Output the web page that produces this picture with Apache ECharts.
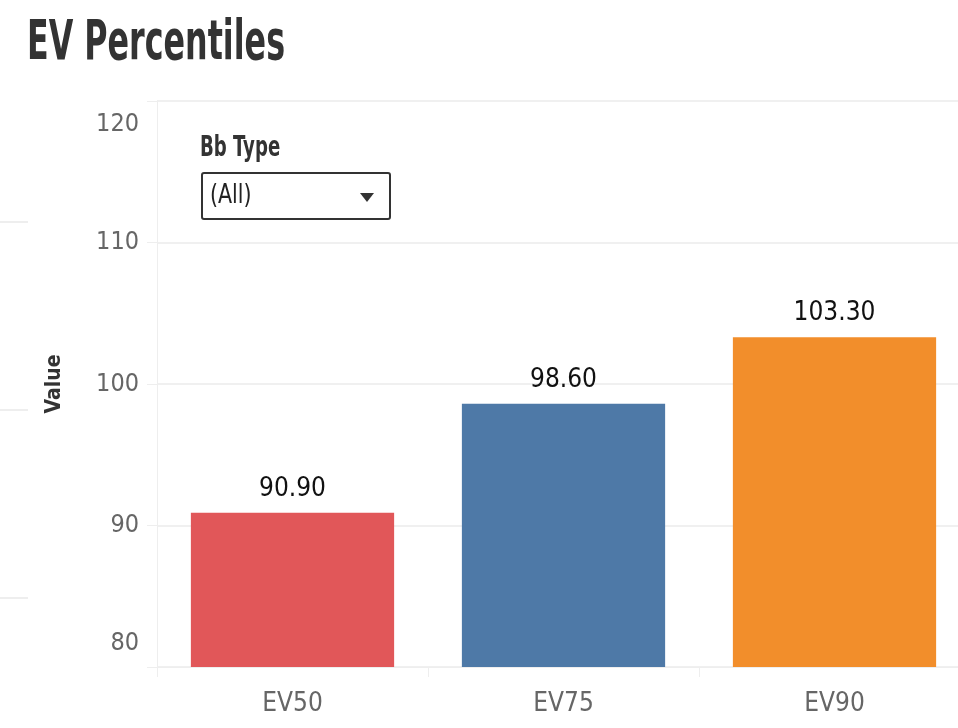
<!DOCTYPE html>
<html><head><meta charset="utf-8">
<script src="https://cdn.jsdelivr.net/npm/echarts@6/dist/echarts.min.js"></script>
<style>html,body{margin:0;padding:0;background:#fff}#c{width:958px;height:728px}</style>
</head><body><div id="c"></div>
<script>
const categories = ['EV50', 'EV75', 'EV90'];
const values = [90.9, 98.6, 103.3];
const barColors = ['#E15759', '#4E79A7', '#F28E2B'];
const yTicks = [80, 90, 100, 110, 120];
const titleText = 'EV Percentiles';
const filterLabel = 'Bb Type';
const filterValue = '(All)';
const FONT = '"DejaVu Sans Condensed", "Liberation Sans Narrow", sans-serif';

const chart = echarts.init(document.getElementById('c'));
chart.setOption({
  animation: false,
  backgroundColor: '#fff',
  grid: { left: 157, width: 813, top: 101, bottom: 61, containLabel: false, outerBoundsMode: 'none' },
  xAxis: {
    type: 'category', data: categories,
    axisLine: { show: true, lineStyle: { color: '#eeeeee', width: 1 } },
    axisTick: { show: true, length: 10, lineStyle: { color: '#eeeeee' } },
    axisLabel: { margin: 24, fontFamily: FONT, fontSize: 26, color: '#666' }
  },
  yAxis: {
    type: 'value', min: yTicks[0], max: yTicks[yTicks.length - 1], interval: 10,
    name: 'Value', nameLocation: 'middle', nameGap: 92, nameRotate: 90,
    nameTextStyle: { fontFamily: FONT, fontSize: 21, fontWeight: 'bold', color: '#333' },
    axisLine: { show: true, lineStyle: { color: '#eeeeee' } },
    axisTick: { show: true, length: 10, lineStyle: { color: '#eeeeee' } },
    splitLine: { show: true, lineStyle: { color: '#f0f0f0', width: 2 } },
    axisLabel: {
      margin: 18, fontFamily: FONT, fontSize: 25, color: '#666',
      formatter: v => v === 120 ? '{top|' + v + '}' : (v === 80 ? '{bot|' + v + '}' : String(v)),
      rich: {
        top: { fontFamily: FONT, fontSize: 25, color: '#666', padding: [46, 0, 0, 0] },
        bot: { fontFamily: FONT, fontSize: 25, color: '#666', padding: [0, 0, 48, 0] }
      }
    }
  },
  series: [{
    type: 'bar', barWidth: '75%',
    data: values.map((v, i) => ({ value: v, itemStyle: { color: barColors[i] } })),
    label: {
      show: true, position: 'top', distance: 11,
      formatter: p => p.value.toFixed(2),
      fontFamily: FONT, fontSize: 26, color: '#111'
    }
  }],
  graphic: [
    { type: 'text', x: 27, y: 16, scaleX: 0.63, style: { text: titleText, fontFamily: FONT, fontSize: 56, fontWeight: 'bold', fill: '#333' } },
    { type: 'line', shape: { x1: 0, y1: 222, x2: 28, y2: 222 }, style: { stroke: '#eeeeee', lineWidth: 2 } },
    { type: 'line', shape: { x1: 0, y1: 410, x2: 28, y2: 410 }, style: { stroke: '#eeeeee', lineWidth: 2 } },
    { type: 'line', shape: { x1: 0, y1: 598, x2: 28, y2: 598 }, style: { stroke: '#eeeeee', lineWidth: 2 } },
    { type: 'text', x: 200, y: 135, scaleX: 0.72, style: { text: filterLabel, fontFamily: FONT, fontSize: 28, fontWeight: 'bold', fill: '#333' } },
    { type: 'rect', shape: { x: 202, y: 173, width: 188, height: 46, r: 2 }, style: { fill: '#fff', stroke: '#333', lineWidth: 2 } },
    { type: 'text', x: 210, y: 183, scaleX: 0.88, style: { text: filterValue, fontFamily: FONT, fontSize: 26, fill: '#222' } },
    { type: 'polygon', shape: { points: [[360, 193], [374, 193], [367, 202]] }, style: { fill: '#333' } }
  ]
});
</script></body></html>
